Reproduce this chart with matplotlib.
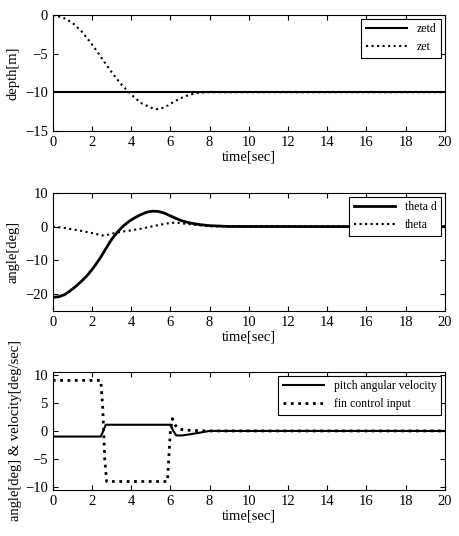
import matplotlib
matplotlib.use("Agg")
import matplotlib.pyplot as plt

plt.rcParams['font.family'] = ['Liberation Serif', 'DejaVu Serif']
plt.rcParams['font.size'] = 10.5

t_zet = [0, 0.5, 1, 1.5, 2, 2.5, 3, 3.5, 4, 4.5, 5, 5.3, 5.7, 6, 6.5, 7, 7.5, 8, 20]
zet = [0, -0.3, -1.0, -2.2, -3.8, -5.6, -7.4, -9.0, -10.3, -11.4, -12.0, -12.2, -12.0, -11.5, -10.8, -10.3, -10.05, -10, -10]
t_zetd = [0, 20]
zetd = [-10, -10]

t_thd = [0, 0.3, 0.6, 0.9, 1.2, 1.5, 1.8, 2.1, 2.4, 2.7, 3.0, 3.3, 3.6, 3.9, 4.2, 4.5, 4.8, 5.1, 5.4, 5.7, 6.0, 6.3, 6.6, 7.0, 7.5, 8.0, 9.0, 20]
theta_d = [-21, -20.8, -20.2, -19.0, -17.6, -16.0, -14.2, -12.0, -9.5, -6.6, -3.8, -1.6, 0.2, 1.6, 2.7, 3.6, 4.3, 4.6, 4.5, 4.0, 3.2, 2.4, 1.7, 1.1, 0.6, 0.3, 0.05, 0]
t_th = [0, 0.5, 1, 1.5, 2, 2.6, 3, 3.5, 4, 4.5, 5, 5.5, 6, 6.3, 7, 7.5, 8, 20]
theta = [0, -0.3, -0.8, -1.3, -1.9, -2.7, -2.1, -1.5, -1.1, -0.6, 0, 0.6, 1.1, 1.2, 0.7, 0.4, 0.1, 0]

t_q = [0, 2.45, 2.6, 2.7, 6.0, 6.15, 6.3, 6.6, 7.0, 7.5, 8.0, 20]
pitch = [-1, -1, 0.2, 1.1, 1.1, 0, -0.8, -0.8, -0.6, -0.3, 0, 0]
t_fin = [0, 2.45, 2.55, 2.65, 2.75, 5.85, 6.0, 6.1, 6.25, 6.5, 7.0, 8.0, 20]
fin = [9, 9, 4, -5, -9, -9, 0, 2.2, 1.0, 0.3, 0.1, 0, 0]

fig = plt.figure(figsize=(4.59, 5.36), dpi=100)
L, W = 0.115, 0.854
ax1 = fig.add_axes([L, 0.756, W, 0.216])
ax2 = fig.add_axes([L, 0.420, W, 0.220])
ax3 = fig.add_axes([L, 0.086, W, 0.220])

ax1.plot(t_zetd, zetd, 'k-', lw=1.5, label='zetd')
ax1.plot(t_zet, zet, 'k:', lw=1.5, label='zet')
ax1.set_ylim(-15, 0); ax1.set_yticks([-15, -10, -5, 0])
ax1.set_ylabel('depth[m]')

ax2.plot(t_thd, theta_d, 'k-', lw=2, label='theta d')
ax2.plot(t_th, theta, 'k:', lw=1.5, label='theta')
ax2.set_ylim(-25, 10); ax2.set_yticks([-20, -10, 0, 10])
ax2.set_ylabel('angle[deg]')

ax3.plot(t_q, pitch, 'k-', lw=1.5, label='pitch angular velocity')
ax3.plot(t_fin, fin, 'k:', lw=2, label='fin control input')
ax3.set_ylim(-10.5, 10.5); ax3.set_yticks([-10, -5, 0, 5, 10])
ax3.set_ylabel('angle[deg] & velocity[deg/sec]', labelpad=2)

for ax in (ax1, ax2, ax3):
    ax.set_xlim(0, 20)
    ax.set_xticks(range(0, 21, 2))
    ax.set_xlabel('time[sec]', labelpad=1)
    ax.tick_params(direction='in', top=True, right=True, labelsize=10.5)
    leg = ax.legend(loc='upper right', fontsize=8.5, fancybox=False, framealpha=1,
                    edgecolor='black', handlelength=3.5, borderaxespad=0.3)
    leg.get_frame().set_linewidth(0.8)

fig.savefig('out.png', dpi=100)
